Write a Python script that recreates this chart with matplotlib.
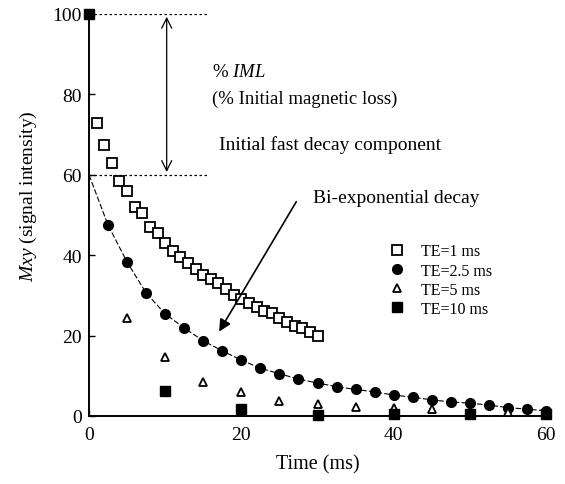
import matplotlib
matplotlib.use('Agg')
import matplotlib.pyplot as plt

plt.rcParams['font.family'] = ['Liberation Serif', 'DejaVu Serif']
plt.rcParams['mathtext.fontset'] = 'custom'
plt.rcParams['mathtext.it'] = 'Liberation Serif:italic'

# TE = 1 ms (open squares)
t_te1 = list(range(1, 31))
s_te1 = [73, 67.5, 63, 58.5, 56, 52, 50.5, 47, 45.5, 43, 41, 39.5, 38, 36.5, 35,
         34, 33, 31.5, 30, 29, 28, 27, 26, 25.5, 24.5, 23.5, 22.5, 22, 21, 20]

# TE = 2.5 ms (filled circles) + fitted bi-exponential curve through them
t_te25 = [2.5, 5, 7.5, 10, 12.5, 15, 17.5, 20, 22.5, 25, 27.5, 30, 32.5, 35,
          37.5, 40, 42.5, 45, 47.5, 50, 52.5, 55, 57.5, 60]
s_te25 = [47.5, 38.3, 30.6, 25.4, 21.9, 18.7, 16.2, 13.9, 11.9, 10.5, 9.2, 8.2,
          7.3, 6.6, 6.0, 5.2, 4.7, 4.0, 3.5, 3.2, 2.7, 2.1, 1.7, 1.3]
fit_t = [0] + t_te25
fit_s = [60] + s_te25

# TE = 5 ms (open triangles)
t_te5 = [5, 10, 15, 20, 25, 30, 35, 40, 45, 50, 55, 60]
s_te5 = [24.4, 14.6, 8.5, 6.0, 3.8, 3.0, 2.2, 1.9, 1.7, 1.2, 1.0, 0.8]

# TE = 10 ms (filled squares)
t_te10 = [0, 10, 20, 30, 40, 50, 60]
s_te10 = [100, 6.2, 1.7, 0.3, 0.5, 0.5, 0.6]

fig = plt.figure(figsize=(5.65, 4.85), dpi=100)
ax = fig.add_axes([89/565, 68/485, 457/565, 402/485])

ax.plot(fit_t, fit_s, color='black', lw=0.8, dashes=(5, 2), zorder=1)
ax.plot(t_te1, s_te1, 's', mfc='white', mec='black', mew=1.3, ms=6.5,
        label='TE=1 ms', clip_on=False, zorder=3)
ax.plot(t_te25, s_te25, 'o', color='black', ms=7, label='TE=2.5 ms',
        clip_on=False, zorder=3)
ax.plot(t_te5, s_te5, '^', mfc='white', mec='black', mew=1.3, ms=6,
        label='TE=5 ms', clip_on=False, zorder=3)
ax.plot(t_te10, s_te10, 's', color='black', ms=7, label='TE=10 ms',
        clip_on=False, zorder=4)

# %IML guide lines and double arrow
ax.plot([0, 15.5], [100, 100], color='black', lw=0.9, dashes=(2, 2))
ax.plot([0, 15.5], [60, 60], color='black', lw=0.9, dashes=(2, 2))
ax.annotate('', xy=(10.2, 100), xytext=(10.2, 60),
            arrowprops=dict(arrowstyle='<->', color='black', lw=0.9,
                            mutation_scale=18))

ax.text(16.1, 85.8, '% $IML$', fontsize=13.5, va='center')
ax.text(16.1, 78.9, '(% Initial magnetic loss)', fontsize=13.5, va='center')
ax.text(17.1, 67.7, 'Initial fast decay component', fontsize=14, va='center')
ax.text(29.4, 54.3, 'Bi-exponential decay', fontsize=14, va='center')
ax.annotate('', xy=(16.9, 20.4), xytext=(27.4, 53.9),
            arrowprops=dict(arrowstyle='-|>', color='black', lw=1.2,
                            mutation_scale=18))

ax.set_xlim(0, 60)
ax.set_ylim(0, 100)
ax.set_xticks([0, 20, 40, 60])
ax.set_yticks([0, 20, 40, 60, 80, 100])
ax.tick_params(direction='in', length=4, width=1, labelsize=14)
ax.tick_params(axis='y', pad=5)
ax.tick_params(axis='x', pad=7)
for side in ['top', 'right']:
    ax.spines[side].set_visible(False)
for side in ['left', 'bottom']:
    ax.spines[side].set_linewidth(1.4)

ax.set_xlabel('Time (ms)', fontsize=14.5)
ax.xaxis.set_label_coords(0.5, -0.095)
ax.set_ylabel('$Mxy$ (signal intensity)', fontsize=14)
ax.yaxis.set_label_coords(-0.11, 0.55)

ax.legend(loc='upper left', bbox_to_anchor=(0.64, 0.445), frameon=False,
          fontsize=11.5, handletextpad=0.9, labelspacing=0.2,
          handlelength=1.2, borderaxespad=0)

fig.savefig('out.png', dpi=100)
